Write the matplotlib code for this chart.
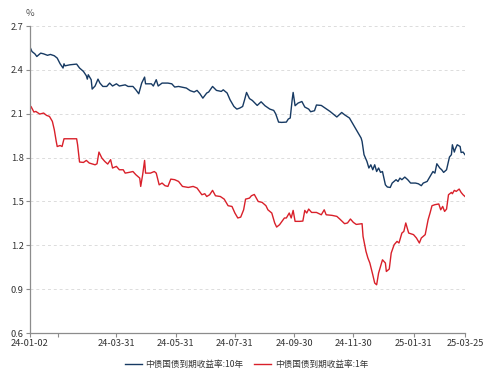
import matplotlib
matplotlib.use("Agg")
import matplotlib.pyplot as plt
import matplotlib.dates as mdates
import pandas as pd

plt.rcParams["font.family"] = ["Noto Sans CJK SC", "DejaVu Sans"]

# 中债国债到期收益率:10年 (%)
dates_10y = [
    "2024-01-02", "2024-01-04", "2024-01-07", "2024-01-09", "2024-01-13", "2024-01-16",
    "2024-01-20", "2024-01-23", "2024-01-27", "2024-01-30", "2024-02-02", "2024-02-05",
    "2024-02-06", "2024-02-07", "2024-02-12", "2024-02-19", "2024-02-22", "2024-02-26",
    "2024-02-29", "2024-03-01", "2024-03-02", "2024-03-05", "2024-03-06", "2024-03-09",
    "2024-03-12", "2024-03-14", "2024-03-17", "2024-03-21", "2024-03-24", "2024-03-27",
    "2024-03-31", "2024-04-03", "2024-04-09", "2024-04-12", "2024-04-17", "2024-04-20",
    "2024-04-23", "2024-04-26", "2024-04-29", "2024-04-30", "2024-05-06", "2024-05-08",
    "2024-05-11", "2024-05-13", "2024-05-17", "2024-05-23", "2024-05-27", "2024-05-30",
    "2024-06-03", "2024-06-11", "2024-06-15", "2024-06-19", "2024-06-22", "2024-06-25",
    "2024-06-28", "2024-07-02", "2024-07-04", "2024-07-08", "2024-07-12", "2024-07-17",
    "2024-07-19", "2024-07-23", "2024-07-26", "2024-07-30", "2024-08-02", "2024-08-05",
    "2024-08-08", "2024-08-10", "2024-08-12", "2024-08-15", "2024-08-18", "2024-08-23",
    "2024-08-27", "2024-08-31", "2024-09-05", "2024-09-09", "2024-09-11", "2024-09-14",
    "2024-09-17", "2024-09-22", "2024-09-24", "2024-09-26", "2024-09-28", "2024-09-29",
    "2024-10-01", "2024-10-04", "2024-10-08", "2024-10-11", "2024-10-15", "2024-10-17",
    "2024-10-21", "2024-10-23", "2024-10-28", "2024-11-01", "2024-11-06", "2024-11-09",
    "2024-11-13", "2024-11-18", "2024-11-21", "2024-11-26", "2024-11-28", "2024-12-02",
    "2024-12-05", "2024-12-08", "2024-12-09", "2024-12-11", "2024-12-14", "2024-12-16",
    "2024-12-18", "2024-12-20", "2024-12-22", "2024-12-24", "2024-12-26", "2024-12-28",
    "2024-12-30", "2025-01-02", "2025-01-04", "2025-01-07", "2025-01-09", "2025-01-13",
    "2025-01-15", "2025-01-17", "2025-01-19", "2025-01-22", "2025-01-25", "2025-01-28",
    "2025-02-02", "2025-02-05", "2025-02-08", "2025-02-10", "2025-02-14", "2025-02-18",
    "2025-02-20", "2025-02-22", "2025-02-24", "2025-02-27", "2025-03-01", "2025-03-03",
    "2025-03-06", "2025-03-09", "2025-03-11", "2025-03-12", "2025-03-14", "2025-03-15",
    "2025-03-17", "2025-03-20", "2025-03-21", "2025-03-23", "2025-03-25",
]
yield_10y = [
    2.556, 2.526, 2.510, 2.492, 2.515, 2.510,
    2.500, 2.506, 2.497, 2.481, 2.442, 2.413,
    2.442, 2.428, 2.435, 2.440, 2.413, 2.390,
    2.360, 2.337, 2.367, 2.333, 2.269, 2.290,
    2.337, 2.310, 2.287, 2.287, 2.310, 2.290,
    2.305, 2.290, 2.298, 2.287, 2.287, 2.264,
    2.237, 2.310, 2.351, 2.305, 2.305, 2.290,
    2.333, 2.290, 2.310, 2.310, 2.305, 2.283,
    2.287, 2.276, 2.258, 2.249, 2.260, 2.237,
    2.207, 2.242, 2.249, 2.287, 2.260, 2.253,
    2.264, 2.242, 2.196, 2.150, 2.132, 2.139,
    2.150, 2.196, 2.246, 2.204, 2.191, 2.157,
    2.182, 2.155, 2.132, 2.123, 2.100, 2.043,
    2.041, 2.043, 2.064, 2.071, 2.196, 2.246,
    2.155, 2.173, 2.184, 2.146, 2.132, 2.114,
    2.121, 2.160, 2.157, 2.139, 2.116, 2.100,
    2.078, 2.109, 2.093, 2.071, 2.048, 2.002,
    1.968, 1.934, 1.911, 1.820, 1.774, 1.729,
    1.751, 1.717, 1.751, 1.705, 1.729, 1.699,
    1.705, 1.614, 1.599, 1.596, 1.626, 1.649,
    1.637, 1.660, 1.649, 1.667, 1.649, 1.626,
    1.626, 1.621, 1.608, 1.626, 1.637, 1.683,
    1.705, 1.694, 1.758, 1.729, 1.717, 1.699,
    1.717, 1.804, 1.820, 1.888, 1.838, 1.859,
    1.888, 1.876, 1.835, 1.838, 1.820,
]

# 中债国债到期收益率:1年 (%)
dates_1y = [
    "2024-01-02", "2024-01-03", "2024-01-06", "2024-01-08", "2024-01-12", "2024-01-16",
    "2024-01-19", "2024-01-22", "2024-01-25", "2024-01-27", "2024-01-29", "2024-01-30",
    "2024-02-02", "2024-02-04", "2024-02-06", "2024-02-12", "2024-02-19", "2024-02-20",
    "2024-02-22", "2024-02-26", "2024-02-29", "2024-03-03", "2024-03-09", "2024-03-11",
    "2024-03-13", "2024-03-16", "2024-03-19", "2024-03-22", "2024-03-25", "2024-03-27",
    "2024-03-31", "2024-04-03", "2024-04-07", "2024-04-09", "2024-04-13", "2024-04-17",
    "2024-04-20", "2024-04-24", "2024-04-25", "2024-04-27", "2024-04-29", "2024-04-30",
    "2024-05-05", "2024-05-09", "2024-05-11", "2024-05-14", "2024-05-17", "2024-05-20",
    "2024-05-23", "2024-05-26", "2024-05-30", "2024-06-03", "2024-06-07", "2024-06-13",
    "2024-06-18", "2024-06-22", "2024-06-27", "2024-06-30", "2024-07-02", "2024-07-05",
    "2024-07-08", "2024-07-11", "2024-07-16", "2024-07-20", "2024-07-24", "2024-07-28",
    "2024-07-31", "2024-08-03", "2024-08-06", "2024-08-09", "2024-08-11", "2024-08-15",
    "2024-08-17", "2024-08-20", "2024-08-24", "2024-08-28", "2024-09-01", "2024-09-03",
    "2024-09-07", "2024-09-10", "2024-09-12", "2024-09-15", "2024-09-20", "2024-09-22",
    "2024-09-25", "2024-09-27", "2024-09-29", "2024-10-01", "2024-10-06", "2024-10-09",
    "2024-10-11", "2024-10-13", "2024-10-15", "2024-10-18", "2024-10-23", "2024-10-28",
    "2024-10-31", "2024-11-02", "2024-11-08", "2024-11-13", "2024-11-16", "2024-11-21",
    "2024-11-24", "2024-11-27", "2024-11-30", "2024-12-03", "2024-12-09", "2024-12-10",
    "2024-12-13", "2024-12-15", "2024-12-17", "2024-12-20", "2024-12-22", "2024-12-24",
    "2024-12-26", "2024-12-30", "2025-01-02", "2025-01-03", "2025-01-06", "2025-01-08",
    "2025-01-11", "2025-01-14", "2025-01-16", "2025-01-19", "2025-01-21", "2025-01-23",
    "2025-01-26", "2025-01-31", "2025-02-03", "2025-02-06", "2025-02-08", "2025-02-12",
    "2025-02-15", "2025-02-17", "2025-02-19", "2025-02-22", "2025-02-26", "2025-02-28",
    "2025-03-02", "2025-03-04", "2025-03-06", "2025-03-08", "2025-03-11", "2025-03-12",
    "2025-03-14", "2025-03-16", "2025-03-19", "2025-03-21", "2025-03-23", "2025-03-25",
]
yield_1y = [
    2.130, 2.150, 2.112, 2.116, 2.098, 2.105,
    2.089, 2.082, 2.048, 1.991, 1.911, 1.876,
    1.883, 1.876, 1.929, 1.929, 1.929, 1.888,
    1.770, 1.767, 1.781, 1.763, 1.751, 1.758,
    1.838, 1.797, 1.774, 1.756, 1.786, 1.729,
    1.740, 1.717, 1.717, 1.694, 1.699, 1.705,
    1.683, 1.660, 1.603, 1.683, 1.781, 1.694,
    1.694, 1.705, 1.694, 1.614, 1.626, 1.608,
    1.603, 1.653, 1.649, 1.637, 1.603, 1.596,
    1.603, 1.592, 1.546, 1.553, 1.534, 1.546,
    1.576, 1.539, 1.534, 1.516, 1.471, 1.466,
    1.421, 1.387, 1.393, 1.443, 1.516, 1.523,
    1.539, 1.548, 1.500, 1.494, 1.471, 1.443,
    1.421, 1.353, 1.325, 1.341, 1.387, 1.387,
    1.421, 1.387, 1.439, 1.364, 1.364, 1.366,
    1.439, 1.421, 1.448, 1.425, 1.425, 1.409,
    1.443, 1.409, 1.405, 1.398, 1.380, 1.348,
    1.353, 1.380, 1.357, 1.343, 1.348, 1.261,
    1.159, 1.113, 1.079, 0.999, 0.942, 0.930,
    1.010, 1.101, 1.079, 1.021, 1.038, 1.147,
    1.204, 1.227, 1.216, 1.284, 1.295, 1.353,
    1.284, 1.273, 1.250, 1.216, 1.250, 1.273,
    1.375, 1.421, 1.471, 1.478, 1.483, 1.443,
    1.466, 1.432, 1.448, 1.546, 1.562, 1.553,
    1.576, 1.569, 1.585, 1.562, 1.546, 1.534,
]

tick_dates = ["2024-01-02", "2024-01-31", "2024-03-31", "2024-05-31", "2024-07-31",
              "2024-09-30", "2024-11-30", "2025-01-31", "2025-03-25"]
tick_labels = ["24-01-02", "", "24-03-31", "24-05-31", "24-07-31",
               "24-09-30", "24-11-30", "25-01-31", "25-03-25"]
y_ticks = [0.6, 0.9, 1.2, 1.5, 1.8, 2.1, 2.4, 2.7]

label_10y = "中债国债到期收益率:10年"
label_1y = "中债国债到期收益率:1年"


def main():
    fig = plt.figure(figsize=(4.93, 3.78), dpi=100)
    ax = fig.add_axes([0.0609, 0.119, 0.8823, 0.812])

    ax.plot(pd.to_datetime(dates_10y), yield_10y, color="#173a63", lw=1.0, label=label_10y)
    ax.plot(pd.to_datetime(dates_1y), yield_1y, color="#d9202a", lw=1.0, label=label_1y)

    ax.set_xlim(pd.Timestamp("2024-01-02"), pd.Timestamp("2025-03-25"))
    ax.set_ylim(0.6, 2.7)
    ax.set_yticks(y_ticks)
    ax.set_yticklabels([f"{v:.1f}" for v in y_ticks])
    ax.set_xticks(pd.to_datetime(tick_dates))
    ax.set_xticklabels(tick_labels)

    ax.grid(axis="y", color="#dcdcdc", linestyle=(0, (3, 3)), linewidth=0.7)
    ax.set_axisbelow(True)
    for side in ["top", "right"]:
        ax.spines[side].set_visible(False)
    for side in ["left", "bottom"]:
        ax.spines[side].set_color("#8c8c8c")
        ax.spines[side].set_linewidth(0.9)
    ax.tick_params(axis="both", length=3, width=0.8, color="#8c8c8c",
                   labelsize=6.7, labelcolor="#333333", pad=1.5)

    fig.text(0.0609, 0.963, "%", fontsize=6.7, color="#555555", ha="center", va="center")

    fig.legend(loc="center", bbox_to_anchor=(0.5, 0.037), ncol=2, frameon=False,
               fontsize=6.2, handlelength=2.0, handletextpad=0.4, columnspacing=1.2,
               labelcolor="#333333")

    fig.savefig("out.png", dpi=100)
    plt.close(fig)


if __name__ == "__main__":
    main()
